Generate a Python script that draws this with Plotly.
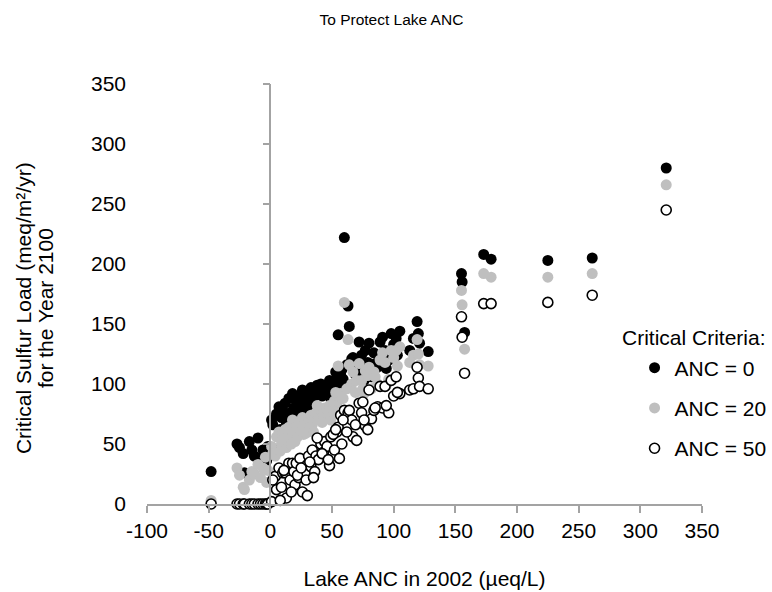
import plotly.graph_objects as go

# Lake acid neutralizing capacity in 2002 (ueq/L), one entry per lake
anc_2002 = [
    -48, -27, -25, -22, -21, -17, -15, -13, -10, -8, -6, -4, -3, -2,
    1, 4, 5, 7, 9, 10, 12, 13, 15, 16, 18, 19, 20, 21,
    23, 24, 26, 27, 28, 30, 31, 33, 34, 36, 37, 39, 41, 43, 44, 46, 48, 49,
    52, 54, 55, 56, 57, 58, 60, 63, 64, 66, 67, 70, 72, 74, 75, 77, 79, 80,
    82, 84, 87, 89, 91, 93, 96, 98, 100, 102, 105,
    113, 116, 119, 120, 121, 128,
    155, 155.5, 157.5, 173, 179, 225, 261, 321,
    2, 8, 11, 17, 22, 25, 29, 32, 35, 38, 42, 47, 51, 53, 59, 62, 69, 76, 85, 94, 103,
]

# Critical sulfur load for the year 2100 (meq/m2/yr) under each ANC criterion
load_anc0 = [
    27, 50, 47, 42, 26, 52, 45, 40, 55, 38, 45, 43, 36, 48,
    70, 45, 75, 81, 72, 78, 84, 68, 88, 76, 92, 80, 74, 86,
    90, 82, 95, 78, 88, 84, 93, 97, 86, 90, 96, 92, 100, 94, 99, 94, 103, 88,
    102, 105, 141, 100, 108, 112, 222, 165, 148, 121, 122, 115, 135, 124, 110, 128, 118, 134,
    106, 126, 114, 135, 139, 128, 120, 142, 133, 138, 144,
    128, 138, 152, 142, 134, 127,
    192, 185, 143, 208, 204, 203, 205, 280,
    66, 62, 74, 70, 79, 85, 80, 88, 82, 99, 90, 97, 95, 110, 104, 116, 108, 103, 117, 113, 124,
]
load_anc20 = [
    3, 30, 24, 14, 12, 20, 27, 25, 33, 22, 30, 39, 18, 28,
    48, 40, 56, 60, 50, 58, 62, 47, 64, 55, 70, 60, 52, 65,
    68, 64, 72, 58, 67, 62, 70, 74, 66, 70, 76, 72, 78, 74, 80, 75, 82, 70,
    86, 84, 115, 89, 92, 88, 168, 137, 116, 100, 110, 103, 117, 103, 96, 111, 107, 114,
    96, 110, 100, 120, 126, 118, 104, 128, 122, 128, 131,
    118, 124, 137, 125, 116, 115,
    178, 166, 129, 192, 189, 189, 192, 266,
    42, 44, 54, 50, 56, 61, 59, 64, 60, 82, 68, 77, 78, 93, 88, 96, 93, 92, 106, 99, 115,
]
load_anc50 = [
    0, 0, 0, 0, 0, 0, 0, 0, 0, 0, 0, 0, 0, 0,
    2, 23, 12, 30, 14, 26, 26, 5, 34, 20, 34, 27, 16, 34,
    22, 38, 10, 25, 26, 7, 40, 31, 45, 27, 40, 37, 50, 43, 52, 48, 32, 56,
    45, 60, 64, 38, 74, 50, 78, 76, 78, 70, 56, 53, 84, 76, 85, 65, 62, 95,
    71, 78, 81, 98, 80, 98, 76, 103, 90, 106, 92,
    95, 96, 114, 105, 98, 96,
    156, 139, 109, 167, 167, 168, 174, 245,
    20, 3, 28, 10, 24, 30, 20, 35, 22, 55, 42, 37, 58, 62, 70, 60, 66, 70, 80, 82, 93,
]

series_names = ["ANC = 0", "ANC = 20", "ANC = 50"]
x_ticks = [-100, -50, 0, 50, 100, 150, 200, 250, 300, 350]
y_ticks = [0, 50, 100, 150, 200, 250, 300, 350]
y_title_lines = ["Critical Sulfur Load (meq/m²/yr)", "for the Year 2100"]

FONT = "Liberation Sans, Arial, sans-serif"
AXIS_GREY = "#a3a3a3"
LABEL_SIZE = 21

# plot area in pixels
W, H = 772, 592
L, R, T, B = 147, 702.5, 84, 504

fig = go.Figure()

styles = [
    dict(color="#000000", size=11, line=dict(color="#000000", width=0)),
    dict(color="#bfbfbf", size=11, line=dict(color="#bfbfbf", width=0)),
    dict(color="#ffffff", size=10, line=dict(color="#000000", width=1.6)),
]
for name, values, style in zip(series_names, [load_anc0, load_anc20, load_anc50], styles):
    fig.add_trace(go.Scatter(
        x=anc_2002, y=values, mode="markers", name=name,
        marker=dict(symbol="circle", **style),
        cliponaxis=False, legendgroup=name,
    ))

# Vertical axis line through ANC = 0 carrying the tick marks
fig.add_trace(go.Scatter(x=[None], y=[None], yaxis="y2", showlegend=False, hoverinfo="skip"))


def px_x(p):
    return (p - L) / (R - L)


def px_y(p):
    return (B - p) / (B - T)


annotations = [dict(
    text="Critical Criteria:", xref="paper", yref="paper",
    x=px_x(769), xanchor="right", y=px_y(337), yanchor="middle",
    showarrow=False, font=dict(size=LABEL_SIZE),
)]
for text, cx in zip(y_title_lines, [23, 45]):
    annotations.append(dict(
        text=text, xref="paper", yref="paper", textangle=-90,
        x=px_x(cx), xanchor="center", y=px_y(308), yanchor="middle",
        showarrow=False, font=dict(size=LABEL_SIZE),
    ))

fig.update_layout(
    width=W, height=H,
    margin=dict(l=L, r=W - R, t=T, b=H - B, autoexpand=False),
    paper_bgcolor="white", plot_bgcolor="white",
    font=dict(family=FONT, color="#000000", size=LABEL_SIZE),
    title=dict(text="To Protect Lake ANC", x=0.507, xanchor="center",
               y=1 - 20 / H, yanchor="middle", font=dict(size=15.5)),
    xaxis=dict(
        range=[x_ticks[0], x_ticks[-1]], tickvals=x_ticks,
        ticktext=[str(v) for v in x_ticks], automargin=False,
        showgrid=False, zeroline=False,
        showline=True, linecolor=AXIS_GREY, linewidth=1.5,
        ticks="outside", ticklen=7, tickcolor=AXIS_GREY, tickwidth=1.5,
        tickfont=dict(size=LABEL_SIZE),
        title=dict(text="Lake ANC in 2002 (µeq/L)", font=dict(size=LABEL_SIZE), standoff=30),
    ),
    yaxis=dict(
        range=[y_ticks[0], y_ticks[-1]], tickvals=y_ticks, automargin=False,
        showgrid=False, zeroline=False, showline=False, ticks="",
        ticklabelstandoff=20, tickfont=dict(size=LABEL_SIZE),
    ),
    yaxis2=dict(
        overlaying="y", anchor="free", side="left", automargin=False,
        position=(0 - x_ticks[0]) / (x_ticks[-1] - x_ticks[0]),
        range=[y_ticks[0], y_ticks[-1]], tickvals=y_ticks,
        showgrid=False, zeroline=False, showticklabels=False,
        showline=True, linecolor=AXIS_GREY, linewidth=1.5,
        ticks="outside", ticklen=7, tickcolor=AXIS_GREY, tickwidth=1.5,
    ),
    showlegend=True,
    legend=dict(
        x=px_x(635), y=px_y(408), xanchor="left", yanchor="middle",
        bgcolor="rgba(0,0,0,0)", font=dict(size=LABEL_SIZE),
        traceorder="grouped", tracegroupgap=10, itemsizing="trace",
    ),
    annotations=annotations,
)

fig.write_html("out.html")
